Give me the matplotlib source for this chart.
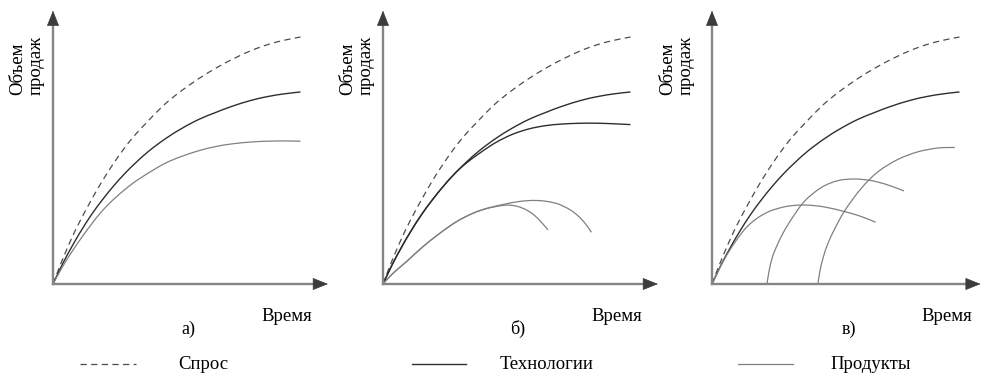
import numpy as np
import matplotlib.pyplot as plt
from matplotlib.path import Path
from matplotlib.patches import PathPatch

plt.rcParams['font.family'] = ['Liberation Serif', 'DejaVu Serif']

# исходные данные (время, объем)
spros_x = [0, 2, 4, 7, 10, 14, 18, 22, 26, 30, 34, 40, 46, 53, 60, 66, 72, 78, 84, 90]
spros_y = [0, 5.3, 10.3, 17.3, 23.5, 31, 38, 44.3, 50, 55, 59.3, 65.5, 70.5, 75.5, 79.8, 83, 85.8, 88, 89.6, 90.8]

tech_x = [0, 2, 4, 7, 10, 14, 18, 22, 26, 30, 35, 41, 47, 53, 59, 65, 72, 78, 84, 90]
tech_y = [0, 4.3, 8.4, 14, 19.2, 25.5, 31, 36, 40.5, 44.5, 49, 53.5, 57.3, 60.5, 63, 65.3, 67.5, 68.9, 69.9, 70.6]

tech2_x = [0, 2, 4, 7, 10, 14, 18, 22, 26, 30, 35, 41, 47, 53, 59, 65, 72, 78, 84, 90]
tech2_y = [0, 4.3, 8.4, 14, 19.2, 25.5, 31, 36, 40.5, 44.2, 48, 52, 55, 57, 58.2, 58.8, 59.1, 59.1, 58.9, 58.6]

# а) продукт
prod_a_x = [0, 3, 6, 10, 14, 18, 23, 29, 35, 41, 47, 53, 59, 65, 72, 78, 84, 90]
prod_a_y = [0, 5.5, 10.5, 16.5, 22, 27, 32, 37, 41, 44.5, 47, 49, 50.5, 51.5, 52.2, 52.5, 52.6, 52.5]

# б) два продукта
prod_b1_x = [0, 3.6, 8.5, 14.5, 20.6, 26.7, 32.7, 38, 43, 46, 49, 52, 55, 57.5, 60]
prod_b1_y = [0, 3.9, 8.2, 13.7, 18.6, 22.9, 26, 27.8, 28.8, 29, 28.5, 27.3, 25.3, 22.8, 19.9]
prod_b2_x = [0, 3.6, 8.5, 14.5, 20.6, 26.7, 32.7, 38, 44, 48, 52, 56, 60, 64, 68, 71, 73.5, 75.8]
prod_b2_y = [0, 3.9, 8.2, 13.7, 18.6, 22.9, 26, 27.9, 29.3, 30.1, 30.6, 30.7, 30.3, 29.3, 27.3, 25, 22.3, 19]

# в) три продукта
prod_c1_x = [0, 2, 4, 6.5, 9.5, 12.5, 15.5, 18.5, 21.6, 26, 30.1, 34.9, 41, 48.3, 54.3, 59.5]
prod_c1_y = [0, 4.2, 8.2, 12.5, 17, 20.8, 23.5, 25.5, 27, 28.3, 28.9, 29, 28.3, 26.6, 24.8, 22.7]
prod_c2_x = [20, 20.8, 22, 23.8, 26, 29, 33.7, 39.8, 45.8, 51.9, 58, 64, 69.8]
prod_c2_y = [0, 5, 10, 14.5, 19, 24, 30.5, 35.5, 38, 38.6, 38, 36.4, 34.2]
prod_c3_x = [38.5, 39.3, 40.5, 42.2, 44.5, 48.3, 54.3, 60.4, 67.6, 74.9, 82.2, 88.3]
prod_c3_y = [0, 5, 10, 15, 20, 27, 35.2, 41.3, 45.8, 48.6, 50, 50.2]

W, H = 982, 376
fig = plt.figure(figsize=(W / 100, H / 100), dpi=100)

spros_style = dict(color="#4d4d4d", lw=0.9, linestyle=(0, (5, 3.5)))
tech_style = dict(color="#2e2e2e", lw=1.0)
prod_style = dict(color="#808080", lw=0.9)


def curve(ax, xs, ys, style):
    # гладкая кривая через точки (безье, catmull-rom)
    pts = np.column_stack([xs, ys]).astype(float)
    verts = [pts[0]]
    codes = [Path.MOVETO]
    for i in range(len(pts) - 1):
        p0 = pts[i - 1] if i > 0 else pts[i]
        p1, p2 = pts[i], pts[i + 1]
        p3 = pts[i + 2] if i + 2 < len(pts) else pts[i + 1]
        verts += [p1 + (p2 - p0) / 6, p2 - (p3 - p1) / 6, p2]
        codes += [Path.CURVE4] * 3
    patch = PathPatch(Path(verts, codes), fill=False, clip_on=False,
                      edgecolor=style["color"], lw=style["lw"],
                      linestyle=style.get("linestyle", "-"), capstyle="butt")
    ax.add_patch(patch)


def panel(left_px, x_end, y_lbl_px, letter, letter_px, time_px):
    ax = fig.add_axes([left_px / W, (H - 284) / H, 275 / W, 272 / H])
    ax.set_xlim(0, 100)
    ax.set_ylim(0, 100)
    ax.axis("off")
    # оси со стрелками
    ax.plot([0, x_end - 3], [0, 0], color="#858585", lw=1.7, clip_on=False)
    ax.plot([0, 0], [0, 97], color="#858585", lw=1.7, clip_on=False)
    head = "-|>,head_length=1.0,head_width=0.4"
    ax.annotate("", xy=(x_end, 0), xytext=(x_end - 4, 0),
                arrowprops=dict(arrowstyle=head, color="#3c3c3c", lw=0.5,
                                shrinkA=0, shrinkB=0),
                annotation_clip=False)
    ax.annotate("", xy=(0, 100.5), xytext=(0, 96),
                arrowprops=dict(arrowstyle=head, color="#3c3c3c", lw=0.5,
                                shrinkA=0, shrinkB=0),
                annotation_clip=False)
    fig.text(y_lbl_px / W, 1 - 95 / H, "Объем\nпродаж", rotation=90,
             ha="center", va="bottom", multialignment="left",
             fontsize=13.5, linespacing=1.05)
    fig.text(time_px / W, 1 - 321 / H, "Время", ha="right", va="baseline", fontsize=13.5)
    fig.text(letter_px / W, 1 - 334 / H, letter, ha="center", va="baseline", fontsize=13)
    return ax


ax1 = panel(53, 100, 27, "а)", 188, 312)
curve(ax1, spros_x, spros_y, spros_style)
curve(ax1, tech_x, tech_y, tech_style)
curve(ax1, prod_a_x, prod_a_y, prod_style)

ax2 = panel(383, 100, 357, "б)", 518, 642)
curve(ax2, spros_x, spros_y, spros_style)
curve(ax2, tech_x, tech_y, tech_style)
curve(ax2, tech2_x, tech2_y, tech_style)
curve(ax2, prod_b1_x, prod_b1_y, prod_style)
curve(ax2, prod_b2_x, prod_b2_y, prod_style)

ax3 = panel(712, 97.7, 677, "в)", 849, 972)
curve(ax3, spros_x, spros_y, spros_style)
curve(ax3, tech_x, tech_y, tech_style)
curve(ax3, prod_c1_x, prod_c1_y, prod_style)
curve(ax3, prod_c2_x, prod_c2_y, prod_style)
curve(ax3, prod_c3_x, prod_c3_y, prod_style)

# легенда внизу
leg = fig.add_axes([0, 0, 1, 1], zorder=-1)
leg.set_xlim(0, W)
leg.set_ylim(H, 0)
leg.axis("off")
leg.plot([80, 136], [364, 364], color="#4d4d4d", lw=0.9, dashes=(5, 3.5))
leg.plot([412, 466], [364, 364], color="#2e2e2e", lw=1.0)
leg.plot([738, 793], [364, 364], color="#808080", lw=0.9)
leg.text(178, 369, "Спрос", ha="left", va="baseline", fontsize=13.5)
leg.text(500, 369, "Технологии", ha="left", va="baseline", fontsize=13.5)
leg.text(830, 369, "Продукты", ha="left", va="baseline", fontsize=13.5)

fig.savefig("out.png", dpi=100)
